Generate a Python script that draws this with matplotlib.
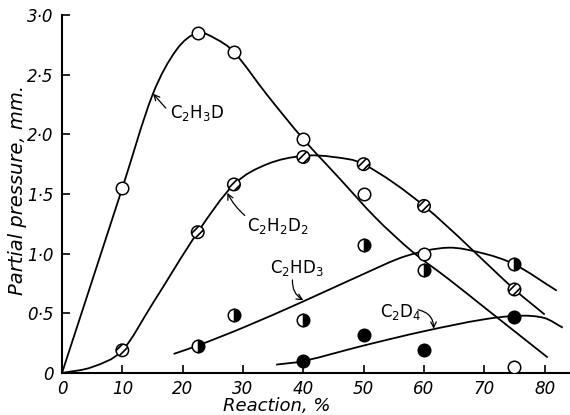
import numpy as np
import matplotlib.pyplot as plt
from matplotlib.path import Path
from matplotlib.patches import PathPatch

# measured points, reaction % vs partial pressure (mm)
c2h3d_x = [10, 22.5, 28.5, 40, 50, 60, 75]
c2h3d_y = [1.55, 2.85, 2.69, 1.96, 1.50, 1.00, 0.05]
c2h2d2_x = [10, 22.5, 28.5, 40, 50, 60, 75]
c2h2d2_y = [0.19, 1.18, 1.58, 1.81, 1.75, 1.40, 0.70]
c2hd3_x = [22.5, 28.5, 40, 50, 60, 75]
c2hd3_y = [0.23, 0.49, 0.44, 1.07, 0.86, 0.91]
c2d4_x = [40, 50, 60, 75]
c2d4_y = [0.10, 0.32, 0.19, 0.47]

# hand drawn curves
c2h3d_cx = [0, 10, 15, 19, 22.5, 25.5, 28.5, 34, 40, 46, 52, 58, 64, 70, 75, 80.5]
c2h3d_cy = [0, 1.55, 2.33, 2.71, 2.85, 2.80, 2.69, 2.33, 1.96, 1.63, 1.30, 1.02, 0.79, 0.55, 0.35, 0.13]
c2h2d2_cx = [0, 5, 10, 15, 22.5, 28.5, 34, 40, 45, 50, 60, 75, 80]
c2h2d2_cy = [0, 0.05, 0.19, 0.58, 1.18, 1.58, 1.75, 1.82, 1.81, 1.75, 1.40, 0.70, 0.49]
c2hd3_cx = [18.5, 22.5, 30, 40, 50, 57, 64, 70, 75, 82]
c2hd3_cy = [0.16, 0.23, 0.38, 0.60, 0.83, 0.98, 1.05, 1.00, 0.91, 0.69]
c2d4_cx = [35.5, 40, 50, 60, 70, 76, 80, 83]
c2d4_cy = [0.07, 0.10, 0.23, 0.35, 0.45, 0.48, 0.46, 0.38]

yticks = [0, 0.5, 1.0, 1.5, 2.0, 2.5, 3.0]
ytick_labels = ['0', '0·5', '1·0', '1·5', '2·0', '2·5', '3·0']
xticks = [0, 10, 20, 30, 40, 50, 60, 70, 80]


def smooth_path(xs, ys):
    # cubic hermite through the points (y as a function of x), as bezier segments
    x = np.asarray(xs, float)
    y = np.asarray(ys, float)
    n = len(x)
    m = np.zeros(n)
    m[0] = (y[1] - y[0]) / (x[1] - x[0])
    m[-1] = (y[-1] - y[-2]) / (x[-1] - x[-2])
    for i in range(1, n - 1):
        m[i] = (y[i + 1] - y[i - 1]) / (x[i + 1] - x[i - 1])
    verts = [(x[0], y[0])]
    codes = [Path.MOVETO]
    for i in range(n - 1):
        h = x[i + 1] - x[i]
        verts += [(x[i] + h / 3, y[i] + m[i] * h / 3),
                  (x[i + 1] - h / 3, y[i + 1] - m[i + 1] * h / 3),
                  (x[i + 1], y[i + 1])]
        codes += [Path.CURVE4] * 3
    return Path(verts, codes)


fig = plt.figure(figsize=(5.7, 4.15), dpi=100)
ax = fig.add_axes([62/570, 42/415, 508/570, 358/415])

for cx, cy in [(c2h3d_cx, c2h3d_cy), (c2h2d2_cx, c2h2d2_cy),
               (c2hd3_cx, c2hd3_cy), (c2d4_cx, c2d4_cy)]:
    ax.add_patch(PathPatch(smooth_path(cx, cy), facecolor='none',
                           edgecolor='black', lw=1.3, zorder=2))

ms = 9
ax.plot(c2h3d_x, c2h3d_y, 'o', ms=ms, mfc='white', mec='black', mew=1.1, zorder=4)
plt.rcParams['hatch.linewidth'] = 1.2
ax.scatter(c2h2d2_x, c2h2d2_y, s=ms**2, facecolor='white', edgecolor='black',
           linewidths=1.1, hatch='////', zorder=4)
ax.plot(c2hd3_x, c2hd3_y, 'o', ms=ms, fillstyle='right', mfc='black',
        mfcalt='white', mec='black', mew=1.1, zorder=4)
ax.plot(c2d4_x, c2d4_y, 'o', ms=ms, mfc='black', mec='black', mew=1.1, zorder=4)

# curve labels with little arrows
lab_kw = dict(fontsize=12, va='center', ha='left')
arr = dict(arrowstyle='->', lw=0.9, color='black', shrinkA=0, shrinkB=0)
ax.text(17.9, 2.18, r'C$_2$H$_3$D', **lab_kw)
ax.annotate('', xy=(15.1, 2.34), xytext=(17.2, 2.22),
            arrowprops=dict(arr, connectionstyle='arc3,rad=0'))
ax.text(30.6, 1.23, r'C$_2$H$_2$D$_2$', **lab_kw)
ax.annotate('', xy=(27.4, 1.51), xytext=(30.3, 1.32),
            arrowprops=dict(arr, connectionstyle='arc3,rad=-0.1'))
ax.text(34.5, 0.88, r'C$_2$HD$_3$', **lab_kw)
ax.annotate('', xy=(40.0, 0.61), xytext=(38.2, 0.78),
            arrowprops=dict(arr, connectionstyle='arc3,rad=0.3'))
ax.text(52.7, 0.51, r'C$_2$D$_4$', **lab_kw)
ax.annotate('', xy=(61.6, 0.37), xytext=(59.0, 0.53),
            arrowprops=dict(arr, connectionstyle='arc3,rad=-0.4'))

ax.set_xlim(0, 84.2)
ax.set_ylim(0, 3.0)
ax.spines['top'].set_visible(False)
ax.spines['right'].set_visible(False)
ax.spines['left'].set_linewidth(1.5)
ax.spines['bottom'].set_linewidth(1.5)

ax.set_yticks(yticks)
ax.set_yticklabels(ytick_labels, fontstyle='italic', fontsize=12)
ax.set_xticks(xticks)
ax.set_xticklabels([str(v) for v in xticks], fontstyle='italic', fontsize=12)
ax.tick_params(axis='both', direction='in', width=1.2, length=6)
ax.tick_params(axis='y', pad=6)
ax.tick_params(axis='x', pad=5)

ax.set_xlabel('Reaction, %', fontstyle='italic', fontsize=13)
ax.xaxis.set_label_coords((277 - 62) / 508, -0.066)
ax.set_ylabel('Partial pressure, mm.', fontstyle='italic', fontsize=14)
ax.yaxis.set_label_coords(-0.068, 0.51)

plt.savefig('out.png', dpi=100)
